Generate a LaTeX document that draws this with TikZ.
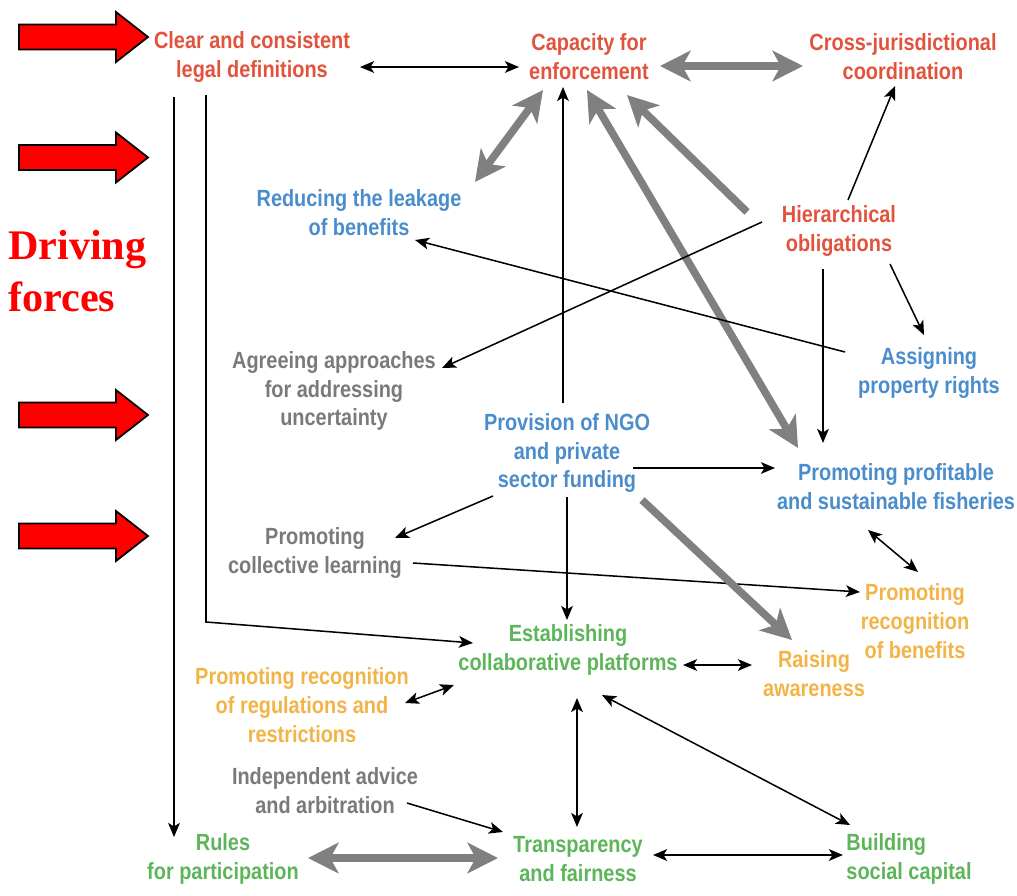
\documentclass[tikz,border=0pt]{standalone}
\usepackage{fontspec}
\setmainfont{Liberation Sans}[FakeStretch=0.85]
\newfontfamily\drvfont{Liberation Serif}
\usetikzlibrary{arrows.meta}
\definecolor{cRed}{HTML}{E2533D}
\definecolor{cBlue}{HTML}{4B8DCB}
\definecolor{cGrey}{HTML}{7A7A7A}
\definecolor{cOrange}{HTML}{F2B447}
\definecolor{cGreen}{HTML}{5DB55A}
\definecolor{cArrow}{HTML}{808080}
\tikzset{
  lbl/.style={font=\fontsize{20}{24.6}\selectfont\bfseries, align=center, inner sep=0pt},
  tRed/.style={lbl, text=cRed},
  tBlue/.style={lbl, text=cBlue},
  tGrey/.style={lbl, text=cGrey},
  tOrange/.style={lbl, text=cOrange},
  tGreen/.style={lbl, text=cGreen},
  conn/.style={line width=1.3pt, -{Stealth[length=12pt,width=10pt,inset=3pt]}},
  conn2/.style={line width=1.3pt, {Stealth[length=12pt,width=10pt,inset=3pt]}-{Stealth[length=12pt,width=10pt,inset=3pt]}},
  big/.style={draw=cArrow, line width=6.5pt, -{Stealth[length=26pt,width=26pt,inset=7pt]}},
  big2/.style={draw=cArrow, line width=6.5pt, {Stealth[length=26pt,width=26pt,inset=7pt]}-{Stealth[length=26pt,width=26pt,inset=7pt]}},
  blockarrow/.style={fill=red, draw=black, line width=1.5pt, line join=miter}
}
\begin{document}
\begin{tikzpicture}[x=0.03cm,y=-0.03cm]
\useasboundingbox (0,0) rectangle (1017,895);
% driving force arrows
\foreach \c in {37,157.5,415,536}{
  \filldraw[blockarrow] (19,\c-12.5) -- (116,\c-12.5) -- (116,\c-25) -- (148,\c) -- (116,\c+25) -- (116,\c+12.5) -- (19,\c+12.5) -- cycle;
}
\node[anchor=west, align=left, inner sep=0pt, text=red, font=\drvfont\fontsize{36}{44}\selectfont\bfseries] (drv) at (8,271) {Driving\\forces};
% nodes
\node[tRed] (clear) at (252,57) {Clear and consistent\\legal definitions};
\node[tRed] (cap) at (589,57) {Capacity for\\enforcement};
\node[tRed] (cross) at (903,57) {Cross-jurisdictional\\coordination};
\node[tBlue] (reduce) at (359,213) {Reducing the leakage\\of benefits};
\node[tRed] (hier) at (839,231) {Hierarchical\\obligations};
\node[tGrey] (agree) at (334,391) {Agreeing approaches\\for addressing\\uncertainty};
\node[tBlue] (assign) at (929,373) {Assigning\\property rights};
\node[tBlue] (prov) at (567,453) {Provision of NGO\\and private\\sector funding};
\node[tBlue] (fish) at (896,487) {Promoting profitable\\and sustainable fisheries};
\node[tGrey] (learn) at (315,553) {Promoting\\collective learning};
\node[tOrange] (recben) at (915,621) {Promoting\\recognition\\of benefits};
\node[tGreen] (estab) at (568,650) {Establishing\\collaborative platforms};
\node[tOrange] (raise) at (814,674) {Raising\\awareness};
\node[tOrange] (regs) at (302,705) {Promoting recognition\\of regulations and\\restrictions};
\node[tGrey] (indep) at (325,791) {Independent advice\\and arbitration};
\node[tGreen] (rules) at (223,859) {Rules\\for participation};
\node[tGreen] (transp) at (578,859) {Transparency\\and fairness};
\node[tGreen, align=left] (build) at (909,859) {Building\\social capital};
% connectors
\draw[conn2] ([shift={(108,10)}]clear.center) -- ([shift={(-70,10)}]cap.center);
\draw[big2] ([shift={(71,9)}]cap.center) -- ([shift={(-100,9)}]cross.center);
\draw[conn] ([shift={(-78,40)}]clear.center) -- ([shift={(-49,-22)}]rules.center);
\draw[conn] ([shift={(-46,38)}]clear.center) -- ++(0,527) -- ([shift={(-95,-7)}]estab.center);
\draw[big2] ([shift={(116,-31)}]reduce.center) -- ([shift={(-46,33)}]cap.center);
\draw[conn] ([shift={(-4,-50)}]prov.center) -- ([shift={(-26,30)}]cap.center);
\draw[big2] ([shift={(-2,33)}]cap.center) -- ([shift={(-98,-39)}]fish.center);
\draw[big] ([shift={(-92,-19)}]hier.center) -- ([shift={(38,38)}]cap.center);
\draw[conn] ([shift={(9,-31)}]hier.center) -- ([shift={(-8,29)}]cross.center);
\draw[conn] ([shift={(-77,-9)}]hier.center) -- ([shift={(108,-23)}]agree.center);
\draw[conn] ([shift={(-84,-21)}]assign.center) -- ([shift={(56,27)}]reduce.center);
\draw[conn] ([shift={(51,33)}]hier.center) -- ([shift={(-5,-38)}]assign.center);
\draw[conn] ([shift={(-16,38)}]hier.center) -- ([shift={(-73,-44)}]fish.center);
\draw[conn] ([shift={(66,15)}]prov.center) -- ([shift={(-121,-19)}]fish.center);
\draw[conn] ([shift={(-74,43)}]prov.center) -- ([shift={(80,-15)}]learn.center);
\draw[conn] ([shift={(98,10)}]learn.center) -- ([shift={(-55,-29)}]recben.center);
\draw[conn2] ([shift={(-28,43)}]fish.center) -- ([shift={(3,-49)}]recben.center);
\draw[conn] ([shift={(0,44)}]prov.center) -- ([shift={(-1,-30)}]estab.center);
\draw[big] ([shift={(75,47)}]prov.center) -- ([shift={(-22,-34)}]raise.center);
\draw[conn2] ([shift={(115,15)}]estab.center) -- ([shift={(-62,-9)}]raise.center);
\draw[conn2] ([shift={(103,-2)}]regs.center) -- ([shift={(-114,35)}]estab.center);
\draw[conn2] ([shift={(9,48)}]estab.center) -- ([shift={(-1,-32)}]transp.center);
\draw[conn2] ([shift={(34,45)}]estab.center) -- ([shift={(-59,-34)}]build.center);
\draw[conn] ([shift={(82,12)}]indep.center) -- ([shift={(-75,-27)}]transp.center);
\draw[big2] ([shift={(85,-1)}]rules.center) -- ([shift={(-80,-1)}]transp.center);
\draw[conn2] ([shift={(75,-4)}]transp.center) -- ([shift={(-66,-4)}]build.center);
\end{tikzpicture}
\end{document}
